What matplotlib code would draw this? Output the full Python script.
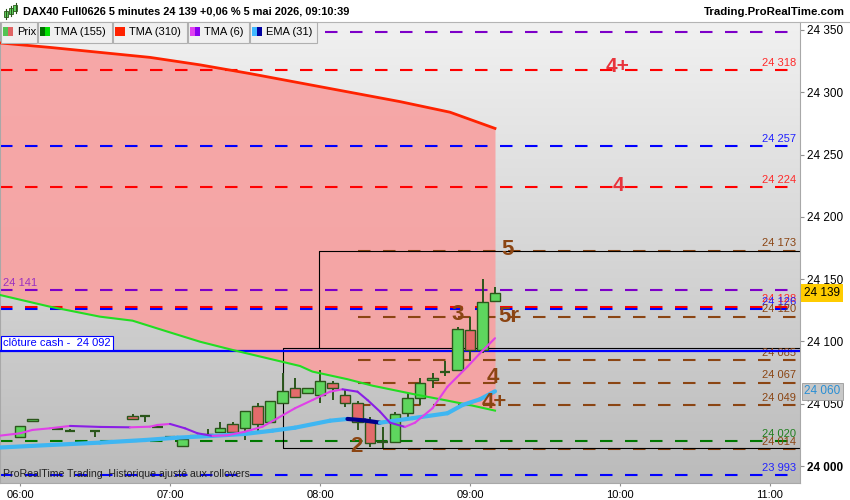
import numpy as np
import matplotlib
matplotlib.use('Agg')
import matplotlib.pyplot as plt
from matplotlib.patches import Rectangle
from matplotlib.lines import Line2D
from matplotlib.colors import LinearSegmentedColormap

plt.rcParams['font.family'] = ['Liberation Sans', 'DejaVu Sans']

# 5 minute bars, time in minutes after 06:00
bar_min = [0, 5, 15, 20, 30, 45, 50, 55, 60, 65, 70, 75, 80, 85, 90, 95, 100, 105,
           110, 115, 120, 125, 130, 135, 140, 145, 150, 155, 160, 165, 170, 175, 180, 185, 190]
opens = [24023, 24036, 24030, 24028, 24028, 24040, 24040.5, 24031, 24023.5, 24016, 24024, 24024,
         24027.5, 24033.5, 24030.5, 24048, 24035, 24051, 24062.5, 24058.5, 24057, 24066.5, 24057,
         24051, 24035.5, 24019.5, 24019.5, 24042.5, 24055, 24069, 24075.5, 24077, 24109, 24093, 24132.5]
highs = [24032, 24038, 24030, 24029.5, 24028, 24042, 24040.5, 24031, 24023.5, 24021.5, 24024, 24030,
         24035, 24035.5, 24044, 24051, 24052, 24075, 24070.5, 24063, 24077, 24068.5, 24061,
         24052.5, 24039, 24031, 24043, 24059, 24070.5, 24075, 24084.5, 24111.5, 24120, 24150, 24143.5]
lows = [24023, 24036, 24030, 24028, 24023.5, 24038, 24035.5, 24031, 24023.5, 24016, 24024, 24024,
        24027, 24027, 24021, 24027, 24035, 24051, 24055.5, 24058.5, 24051, 24053, 24047.5,
        24029, 24015, 24014.5, 24019.5, 24038, 24049, 24062.5, 24072, 24077, 24084, 24091, 24132.5]
closes = [24032, 24038, 24030, 24028, 24028, 24038, 24040.5, 24031, 24023.5, 24021.5, 24024, 24026,
          24030.5, 24027, 24044, 24033.5, 24052, 24060, 24055.5, 24063, 24068, 24062.5, 24050.5,
          24035, 24018.5, 24019.5, 24041.5, 24054.5, 24067, 24071, 24075.5, 24110, 24093, 24131.5, 24139]

tma155_min = [-8, 12, 32, 45, 59, 72, 85, 99, 112, 117, 131, 141, 157, 171, 181, 190]
tma155 = [24137.3, 24127.9, 24119.9, 24116.7, 24107.9, 24099.8, 24093.2, 24086.5, 24080.3,
          24075.8, 24069.7, 24064.5, 24057.9, 24052.5, 24048.5, 24044.5]

tma310_min = [-8, 12, 32, 52, 72, 92, 112, 132, 152, 172, 190]
tma310 = [24339.6, 24336, 24332, 24328, 24322, 24315, 24307.5, 24300, 24292.5, 24284, 24271]

tma6_min = [-8, 0, 5, 12, 20, 32, 44, 52, 55, 60, 66, 71, 77, 83, 90, 97, 103, 110, 117, 124,
            129, 135, 139, 144, 148, 154, 158, 165, 171, 179, 184, 190]
tma6 = [24024.4, 24026.3, 24029, 24030.3, 24032.2, 24031.4, 24031.1, 24031.6, 24033, 24033.8,
        24030.3, 24026.3, 24024.2, 24024.7, 24027.6, 24031.6, 24038.4, 24046.4, 24053, 24059.7,
        24061.6, 24059.7, 24053, 24043.7, 24034.8, 24031.4, 24034.8, 24046.4, 24063.7, 24079.8,
        24090.5, 24102.6]

ema31_min = [-8, 12, 32, 50, 63, 77, 90, 101, 110, 124, 131, 138, 144, 157, 171, 177, 184, 190]
ema31 = [24014.9, 24016.9, 24018.8, 24020.9, 24022.8, 24024.2, 24025.8, 24028.4, 24030.8,
         24036.4, 24037.8, 24036.6, 24034.8, 24038.4, 24042.4, 24049.0, 24053.6, 24060]

# horizontal levels
level_vals = [24348, 24318, 24257, 24224, 24173, 24141, 24128, 24126, 24120, 24085, 24067, 24049,
              24020, 24014, 23993]
level_kind = ['purple', 'red', 'blue', 'red', 'brown', 'purple', 'red', 'blue', 'brown', 'brown',
              'brown', 'brown', 'green', 'brown', 'blue']
level_start = [-8, -8, -8, -8, 135, -8, -8, -8, 135, 135, 135, 135, -8, 145, -8]
cash_close = 24092
last_price = 24139

tick_vals = [24000, 24050, 24100, 24150, 24200, 24250, 24300, 24350]
time_ticks = [0, 60, 120, 180, 240, 300]
time_labels = ['06:00', '07:00', '08:00', '09:00', '10:00', '11:00']

wave_labels = ['4+', '4', '5', '3', '5r', '4', '4+', '2']
wave_min = [239, 239.5, 195, 175, 195.5, 189, 189.5, 134.5]
wave_price = [24321, 24225, 24174, 24122, 24120, 24071, 24051, 24016]
wave_red = [True, True, False, False, False, False, False, False]

line_col = {'purple': '#7d00c8', 'red': '#ff0000', 'blue': '#0000ff', 'brown': '#8b4513', 'green': '#007800'}
text_col = {'purple': '#9b30c0', 'red': '#ff2a2a', 'blue': '#2222ff', 'brown': '#8b4513', 'green': '#208020'}

xmin, xmax = -8, 312
ymin, ymax = 23986.4, 24356.4

fig = plt.figure(figsize=(8.5, 5), dpi=100, facecolor='white')
ax = fig.add_axes([0, 17 / 500, 800 / 850, 461 / 500])

bg = LinearSegmentedColormap.from_list('bg', ['#f1f1f1', '#bbbbbb'])
ax.imshow(np.linspace(0, 1, 256).reshape(-1, 1), extent=[xmin, xmax, ymin, ymax],
          aspect='auto', cmap=bg, origin='upper', zorder=0)

# fill between the two long moving averages
grid = np.linspace(-8, 190, 200)
ax.fill_between(grid, np.interp(grid, tma310_min, tma310), np.interp(grid, tma155_min, tma155),
                color='#f7a2a2', alpha=0.93, lw=0, zorder=1)

# levels
for v, k, x0 in zip(level_vals, level_kind, level_start):
    ax.plot([x0, xmax], [v, v], color=line_col[k], lw=1.5, ls=(0, (6, 6)), zorder=2)
    if v == 24348:
        continue
    s = '{:,}'.format(v).replace(',', ' ')
    if v == 24141:
        ax.annotate(s, xy=(0, v), xycoords=('axes fraction', 'data'), xytext=(2, 1.5),
                    textcoords='offset points', ha='left', va='bottom', fontsize=8, color=text_col[k])
        continue
    ax.annotate(s, xy=(1, v), xycoords=('axes fraction', 'data'), xytext=(-3, 1.5),
                textcoords='offset points', ha='right', va='bottom', fontsize=8, color=text_col[k])

# boxes
ax.plot([119.5, 119.5, xmax], [24094.5, 24173, 24173], color='black', lw=0.8, zorder=2)
ax.plot([xmax, 105, 105, xmax], [24094.5, 24094.5, 24014.3, 24014.3], color='black', lw=0.8, zorder=2)

# cash close
ax.plot([xmin, xmax], [cash_close, cash_close], color='#0000ff', lw=1.6, zorder=3)
ax.annotate('clôture cash -  24 092', xy=(0, cash_close), xycoords=('axes fraction', 'data'),
            xytext=(2, 2.5), textcoords='offset points', ha='left', va='bottom', fontsize=8,
            color='#0000ff', bbox=dict(boxstyle='square,pad=0.2', fc='white', ec='#0000ff', lw=0.8),
            zorder=8)

# candles
for m, o, h, l, c in zip(bar_min, opens, highs, lows, closes):
    ax.vlines(m, l, h, color='#2b561b', lw=1.4, zorder=3)
    if o == c:
        ax.hlines(o, m - 2.1, m + 2.1, color='#2b561b', lw=1.6, zorder=4)
    else:
        fc = '#5ed65e' if c > o else '#e36b6b'
        ax.add_patch(Rectangle((m - 2.1, min(o, c)), 4.2, abs(c - o), fc=fc, ec='#2b561b',
                               lw=1, zorder=4))

# moving averages
ax.plot(tma310_min, tma310, color='#ff2200', lw=2, zorder=5)
ax.plot(tma155_min, tma155, color='#22dd22', lw=1.5, zorder=5)
for i in range(len(ema31) - 1):
    col = '#3fb6f2' if ema31[i + 1] >= ema31[i] else '#00008c'
    ax.plot(ema31_min[i:i + 2], ema31[i:i + 2], color=col, lw=3, zorder=6, solid_capstyle='round')
for i in range(len(tma6) - 1):
    col = '#e040e8' if tma6[i + 1] >= tma6[i] else '#8a1ee6'
    ax.plot(tma6_min[i:i + 2], tma6[i:i + 2], color=col, lw=1.5, zorder=7, solid_capstyle='round')

# wave counts
for t, m, p, r in zip(wave_labels, wave_min, wave_price, wave_red):
    ax.text(m, p, t, fontsize=15 if r else 16, fontweight='bold', ha='center', va='center',
            color='#e8343c' if r else '#8b4513', zorder=9)

ax.text(0.004, 0.0195, 'ProRealTime Trading  Historique ajusté aux rollovers', transform=ax.transAxes,
        fontsize=7.6, color='#222222', va='center', ha='left', zorder=9)

# right price tags
ax.annotate('24 139', xy=(1, last_price), xycoords=('axes fraction', 'data'), xytext=(3, 0),
            textcoords='offset points', ha='left', va='center', fontsize=8.5, color='black',
            bbox=dict(boxstyle='square,pad=0.25', fc='#ffcc00', ec='none'), annotation_clip=False, zorder=10)
ax.annotate('24 060', xy=(1, ema31[-1]), xycoords=('axes fraction', 'data'), xytext=(3, 0),
            textcoords='offset points', ha='left', va='center', fontsize=8.5, color='#2a8fd4',
            bbox=dict(boxstyle='square,pad=0.2', fc='#c8c8c8', ec='#9a9a9a', lw=0.6),
            annotation_clip=False, zorder=10)

ax.set_xlim(xmin, xmax)
ax.set_ylim(ymin, ymax)
ax.yaxis.tick_right()
ax.set_yticks(tick_vals)
ax.set_yticklabels(['{:,}'.format(v).replace(',', ' ') for v in tick_vals])
for lab in ax.get_yticklabels():
    if lab.get_text() == '24 000':
        lab.set_fontweight('bold')
ax.set_xticks(time_ticks)
ax.set_xticklabels(time_labels)
ax.tick_params(axis='y', length=3, color='#909090', labelsize=8.5, pad=2)
ax.tick_params(axis='x', length=2, color='#909090', labelsize=8, pad=3)
ax.spines['top'].set_visible(False)
for side in ['left', 'right', 'bottom']:
    ax.spines[side].set_color('#a8a8a8')
    ax.spines[side].set_linewidth(0.8)

# header
def fx(x):
    return x / 850

def fy(y):
    return 1 - y / 500

fig.add_artist(Line2D([0, 1], [fy(21.5), fy(21.5)], color='#b4b4b4', lw=0.8))
fig.text(fx(23), fy(12), 'DAX40 Full0626 5 minutes 24 139 +0,06 % 5 mai 2026, 09:10:39',
         fontsize=7.9, fontweight='bold', va='center', ha='left')
fig.text(fx(845), fy(12), 'Trading.ProRealTime.com', fontsize=8.2, fontweight='bold',
         va='center', ha='right')
for cx, top, bot in [(5.5, 11, 17), (10.5, 8, 14), (15.5, 5, 11)]:
    fig.add_artist(Line2D([fx(cx), fx(cx)], [fy(top - 2), fy(bot + 2)], color='#2b561b', lw=0.8))
    fig.add_artist(Rectangle((fx(cx - 2), fy(bot)), fx(4), (bot - top) / 500, transform=fig.transFigure,
                             fc='#5ed65e', ec='#2b561b', lw=0.6))

# legend row
legend_items = [('Prix', 1, 37, '#52c452', '#e06464'),
                ('TMA (155)', 38, 112, '#007000', '#00e000'),
                ('TMA (310)', 113, 187, '#ff2200', '#ff2200'),
                ('TMA (6)', 188, 249, '#e040f0', '#8a00f0'),
                ('EMA (31)', 250, 317, '#40b8ff', '#0000a0')]
for name, x0, x1, c1, c2 in legend_items:
    fig.add_artist(Rectangle((fx(x0), fy(43)), fx(x1 - x0), 21 / 500, transform=fig.transFigure,
                             fc='#f0f0f0', ec='#b0b0b0', lw=0.8, zorder=10))
    fig.add_artist(Rectangle((fx(x0 + 2), fy(36)), fx(5), 9 / 500, transform=fig.transFigure,
                             fc=c1, ec='none', zorder=11))
    fig.add_artist(Rectangle((fx(x0 + 7), fy(36)), fx(5), 9 / 500, transform=fig.transFigure,
                             fc=c2, ec='none', zorder=11))
    fig.text(fx(x0 + 16), fy(32), name, fontsize=8, va='center', ha='left', zorder=12)

fig.savefig('out.png', dpi=100, facecolor='white')
